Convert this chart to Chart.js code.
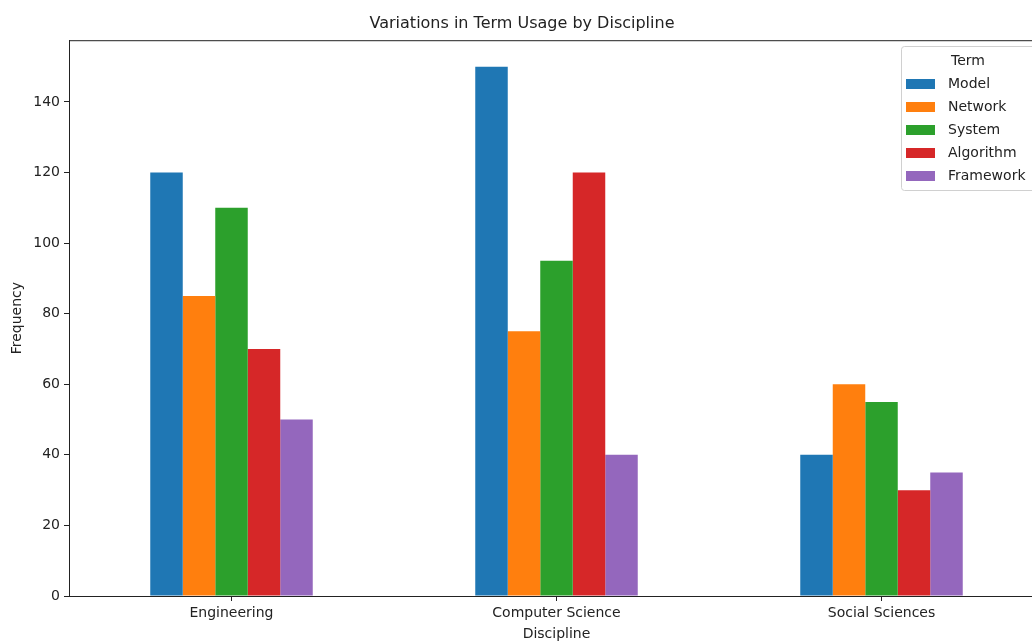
<!DOCTYPE html>
<html>
<head>
<meta charset="utf-8">
<script src="https://cdn.jsdelivr.net/npm/chart.js@4/dist/chart.umd.min.js"></script>
<style>
  html, body { margin: 0; padding: 0; background: #fff; overflow: hidden; }
  #wrap { width: 1060px; height: 643px; }
</style>
</head>
<body>
<div id="wrap"><canvas id="termChart" width="1060" height="643"></canvas></div>
<script>
// data
const disciplines = ['Engineering', 'Computer Science', 'Social Sciences'];
const terms = ['Model', 'Network', 'System', 'Algorithm', 'Framework'];
const model = [120, 150, 40];
const network = [85, 75, 60];
const system = [110, 95, 55];
const algorithm = [70, 120, 30];
const framework = [50, 40, 35];
const yTicks = [0, 20, 40, 60, 80, 100, 120, 140];
const colors = ['#1f77b4', '#ff7f0e', '#2ca02c', '#d62728', '#9467bd'];

const series = [model, network, system, algorithm, framework];
const font = 'DejaVu Sans';

// frame around plot area + legend inside the axes (matplotlib style)
const framePlugin = {
    id: 'frame',
    afterDatasetsDraw(chart) {
        const { ctx, chartArea } = chart;
        ctx.save();
        ctx.strokeStyle = '#222';
        ctx.lineWidth = 1;
        ctx.strokeRect(chartArea.left + 0.5, chartArea.top + 0.5,
            chartArea.right - chartArea.left, chartArea.bottom - chartArea.top);

        // legend box
        const bx = 901.5, by = 46.5, bw = 150, bh = 144;
        ctx.fillStyle = 'rgba(255,255,255,0.8)';
        ctx.strokeStyle = '#d0d0d0';
        ctx.beginPath();
        ctx.roundRect(bx, by, bw, bh, 3);
        ctx.fill();
        ctx.stroke();

        ctx.fillStyle = '#222';
        ctx.font = '14px "' + font + '"';
        ctx.textBaseline = 'middle';
        ctx.textAlign = 'center';
        ctx.fillText('Term', 968, 61);
        ctx.textAlign = 'left';
        chart.data.datasets.forEach((ds, i) => {
            const y = 84 + i * 23;
            ctx.fillStyle = ds.backgroundColor;
            ctx.fillRect(906, y - 5, 29, 10);
            ctx.fillStyle = '#222';
            ctx.fillText(ds.label, 948, y);
        });
        ctx.restore();
    }
};

const ctx = document.getElementById('termChart').getContext('2d');
const chart = new Chart(ctx, {
    type: 'bar',
    data: {
        labels: disciplines,
        datasets: terms.map((t, i) => ({
            label: t,
            data: series[i],
            backgroundColor: colors[i],
            borderWidth: 0,
            categoryPercentage: 0.5,
            barPercentage: 1.0,
        })),
    },
    options: {
        responsive: false,
        animation: false,
        layout: { padding: { left: 0, right: 16, top: 0, bottom: 0 } },
        plugins: {
            legend: { display: false },
            tooltip: { enabled: false },
            title: {
                display: true,
                text: 'Variations in Term Usage by Discipline',
                color: '#222',
                font: { family: font, size: 16, weight: 'normal' },
                padding: { top: 14, bottom: 7 },
            },
        },
        scales: {
            x: {
                offset: true,
                grid: { display: true, drawOnChartArea: false, drawTicks: true, tickLength: 5, color: '#222', offset: false },
                border: { display: true, color: '#222', width: 1 },
                ticks: { color: '#222', font: { family: font, size: 14 }, padding: 4, maxRotation: 0 },
                title: { display: true, text: 'Discipline', color: '#222', font: { family: font, size: 14 }, padding: 0 },
                afterFit(scale) { scale.height = 47; },
            },
            y: {
                min: 0,
                max: 157.5,
                grid: { display: true, drawOnChartArea: false, drawTicks: true, tickLength: 5, color: '#222' },
                border: { display: true, color: '#222', width: 1 },
                afterBuildTicks(scale) { scale.ticks = yTicks.map(v => ({ value: v })); },
                ticks: { color: '#222', font: { family: font, size: 14 }, padding: 4 },
                title: { display: true, text: 'Frequency', color: '#222', font: { family: font, size: 14 }, padding: { top: 9, bottom: 0 } },
                afterFit(scale) { scale.width = 69; },
            },
        },
    },
    plugins: [framePlugin],
});
</script>
</body>
</html>
